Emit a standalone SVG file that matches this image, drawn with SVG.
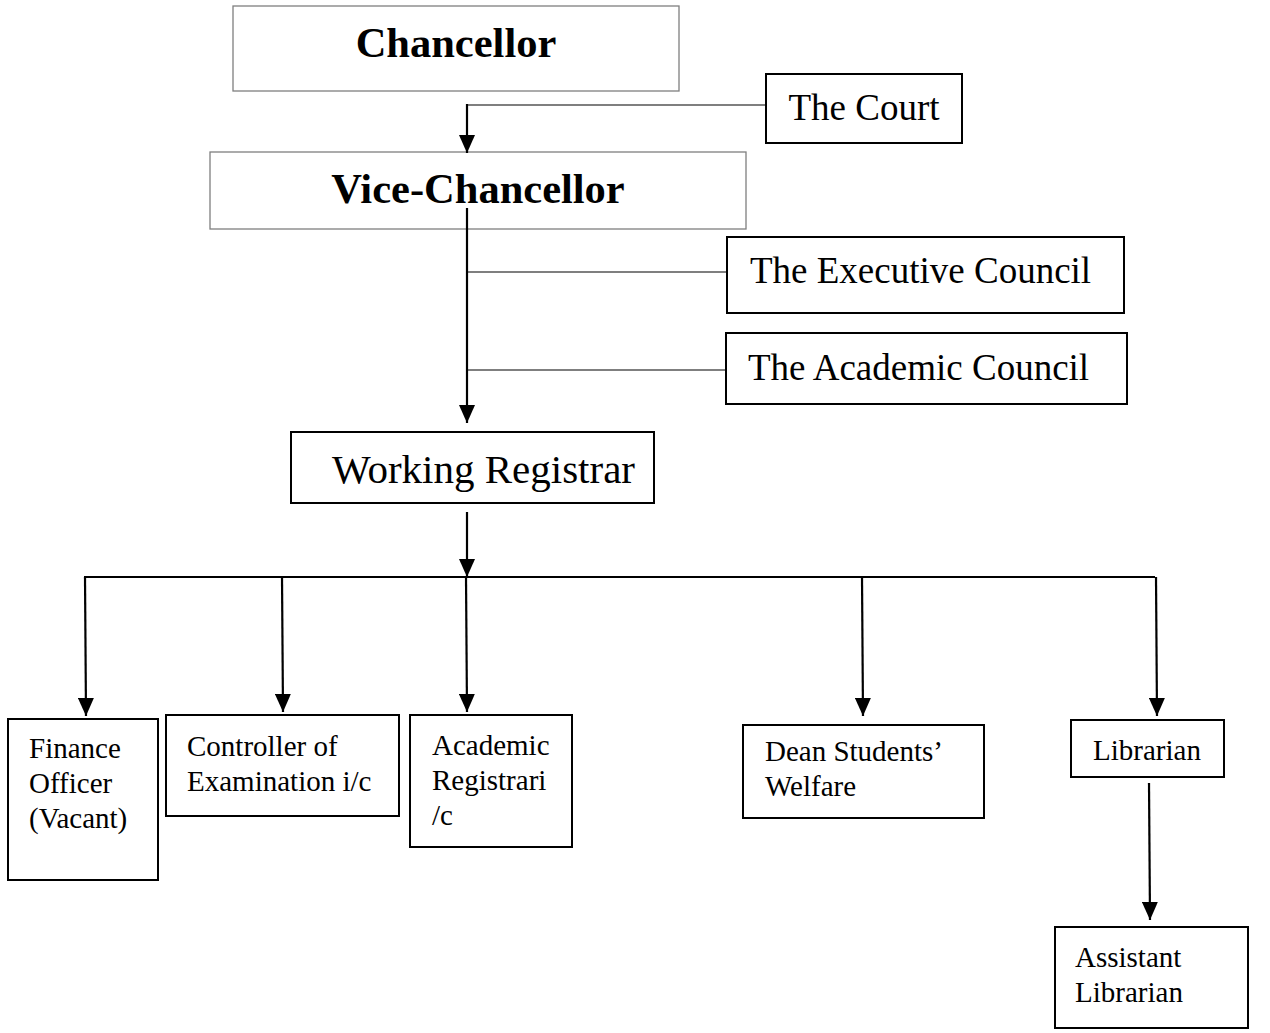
<svg xmlns="http://www.w3.org/2000/svg" width="1270" height="1033" viewBox="0 0 1270 1033">
<style>
.bg{fill:#fff}
.box{fill:#fff;stroke:#000;stroke-width:2}
.gbox{fill:#fff;stroke:#7f7f7f;stroke-width:1.3}
.t{font-family:"Liberation Serif","Times New Roman",serif;fill:#000}
.big{font-size:42.5px;font-weight:bold}
.mid{font-size:37px}
.wr{font-size:41px}
.sm{font-size:29px}
.arr{fill:none;stroke:#000;stroke-width:2.2;marker-end:url(#ah)}
.thin{fill:none;stroke:#000;stroke-width:1.2}
.bus{fill:none;stroke:#000;stroke-width:2.2}
</style>
<defs>
<marker id="ah" markerUnits="userSpaceOnUse" markerWidth="18" markerHeight="16" refX="18" refY="8" orient="auto" viewBox="0 0 18 16">
<path d="M0,0 L18,8 L0,16 z" fill="#000"/>
</marker>
</defs>
<rect class="bg" x="0" y="0" width="1270" height="1033"/>
<g id="chancellor"><rect class="gbox" x="233" y="6" width="446" height="85"/><text class="t big" x="456" y="57" text-anchor="middle">Chancellor</text></g>
<g id="court"><rect class="box" x="766" y="74" width="196" height="69"/><text class="t mid" x="864" y="120" text-anchor="middle">The Court</text></g>
<g id="vice-chancellor"><rect class="gbox" x="210" y="152" width="536" height="77"/><text class="t big" x="478" y="203" text-anchor="middle">Vice-Chancellor</text></g>
<g id="executive-council"><rect class="box" x="727" y="237" width="397" height="76"/><text class="t mid" x="750" y="283">The Executive Council</text></g>
<g id="academic-council"><rect class="box" x="726" y="333" width="401" height="71"/><text class="t mid" x="748" y="380">The Academic Council</text></g>
<g id="working-registrar"><rect class="box" x="291" y="432" width="363" height="71"/><text class="t wr" x="332" y="483">Working Registrar</text></g>
<g id="finance-officer"><rect class="box" x="8" y="719" width="150" height="161"/><text class="t sm"><tspan x="29" y="758">Finance</tspan><tspan x="29" y="793">Officer</tspan><tspan x="29" y="828">(Vacant)</tspan></text></g>
<g id="controller"><rect class="box" x="166" y="715" width="233" height="101"/><text class="t sm"><tspan x="187" y="756">Controller of</tspan><tspan x="187" y="791">Examination i/c</tspan></text></g>
<g id="academic-registrar"><rect class="box" x="410" y="715" width="162" height="132"/><text class="t sm"><tspan x="432" y="755">Academic</tspan><tspan x="432" y="790">Registrari</tspan><tspan x="432" y="825">/c</tspan></text></g>
<g id="dean"><rect class="box" x="743" y="725" width="241" height="93"/><text class="t sm"><tspan x="765" y="761">Dean Students’</tspan><tspan x="765" y="796">Welfare</tspan></text></g>
<g id="librarian"><rect class="box" x="1071" y="720" width="153" height="57"/><text class="t sm" x="1093" y="760">Librarian</text></g>
<g id="assistant-librarian"><rect class="box" x="1055" y="927" width="193" height="101"/><text class="t sm"><tspan x="1075" y="967">Assistant</tspan><tspan x="1075" y="1002">Librarian</tspan></text></g>
<g id="connectors">
<polyline class="thin" points="766,105 467,105"/>
<line class="arr" x1="467" y1="104" x2="467" y2="153"/>
<line class="arr" x1="467" y1="208" x2="467" y2="423"/>
<line class="thin" x1="467" y1="272" x2="727" y2="272"/>
<line class="thin" x1="467" y1="370" x2="726" y2="370"/>
<line class="arr" x1="467" y1="512" x2="467" y2="577"/>
<line class="bus" x1="84" y1="577" x2="1155" y2="577"/>
<line class="arr" x1="85" y1="577" x2="86" y2="716"/>
<line class="arr" x1="282" y1="577" x2="283" y2="712"/>
<line class="arr" x1="466" y1="577" x2="467" y2="712"/>
<line class="arr" x1="862" y1="577" x2="863" y2="716"/>
<line class="arr" x1="1156" y1="577" x2="1157" y2="716"/>
<line class="arr" x1="1149" y1="783" x2="1150" y2="920"/>
</g>
</svg>
